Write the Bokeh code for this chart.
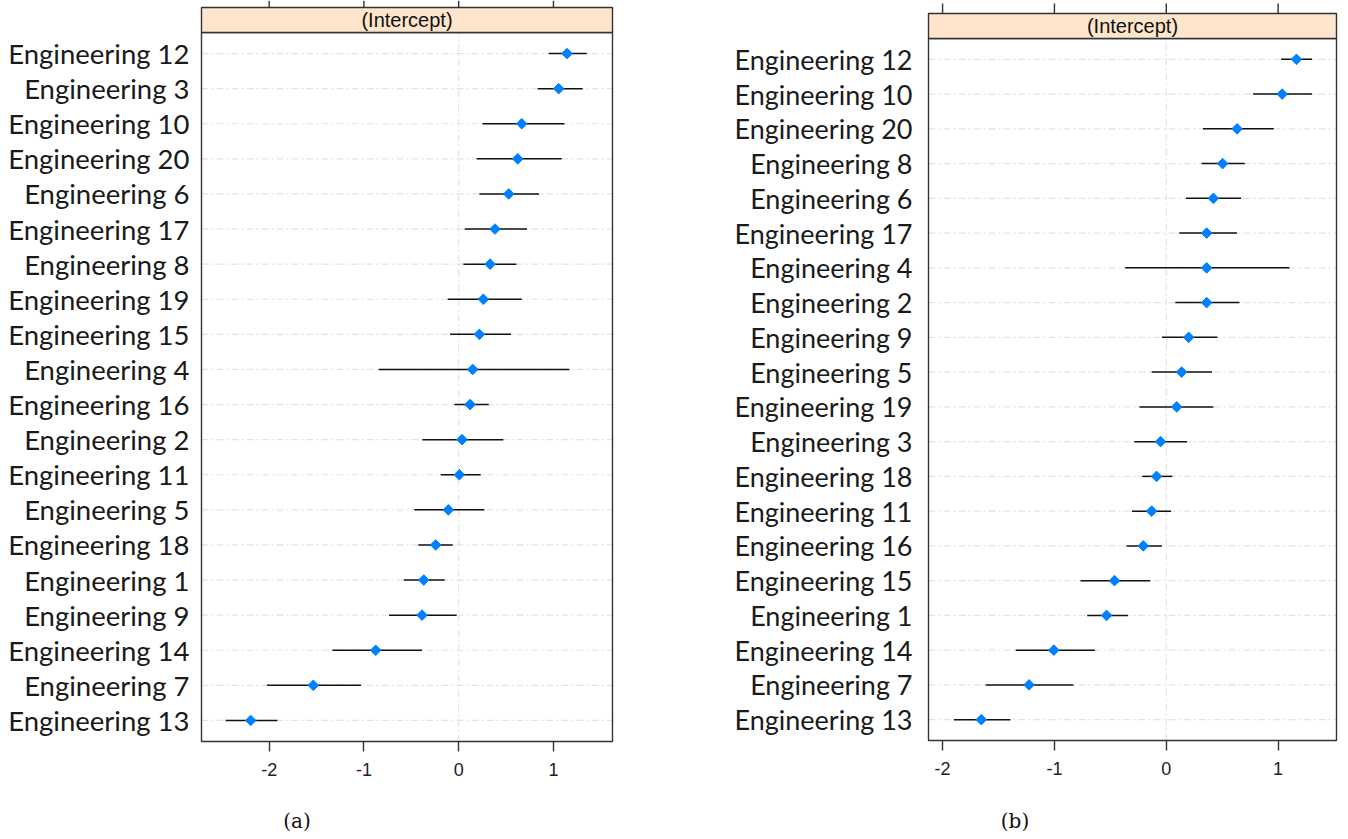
from bokeh.plotting import figure
from bokeh.models import Range1d, FixedTicker, Div
from bokeh.layouts import row, column
from bokeh.embed import file_html
from bokeh.resources import INLINE
from bokeh.core.properties import value

# ---------------- data: panel (a), top to bottom ----------------
a_labels = ["Engineering 12", "Engineering 3", "Engineering 10", "Engineering 20",
            "Engineering 6", "Engineering 17", "Engineering 8", "Engineering 19",
            "Engineering 15", "Engineering 4", "Engineering 16", "Engineering 2",
            "Engineering 11", "Engineering 5", "Engineering 18", "Engineering 1",
            "Engineering 9", "Engineering 14", "Engineering 7", "Engineering 13"]
a_est = [1.143, 1.055, 0.665, 0.623, 0.528, 0.383, 0.331, 0.260, 0.218, 0.148,
         0.120, 0.035, 0.007, -0.109, -0.243, -0.369, -0.387, -0.876, -1.534, -2.195]
a_lo = [0.950, 0.834, 0.250, 0.190, 0.218, 0.063, 0.049, -0.116, -0.091, -0.844,
        -0.046, -0.383, -0.190, -0.468, -0.426, -0.580, -0.735, -1.333, -2.022, -2.459]
a_hi = [1.351, 1.308, 1.115, 1.087, 0.848, 0.721, 0.609, 0.665, 0.552, 1.168,
        0.317, 0.471, 0.232, 0.271, -0.063, -0.148, -0.021, -0.387, -1.031, -1.913]

# ---------------- data: panel (b), top to bottom ----------------
b_labels = ["Engineering 12", "Engineering 10", "Engineering 20", "Engineering 8",
            "Engineering 6", "Engineering 17", "Engineering 4", "Engineering 2",
            "Engineering 9", "Engineering 5", "Engineering 19", "Engineering 3",
            "Engineering 18", "Engineering 11", "Engineering 16", "Engineering 15",
            "Engineering 1", "Engineering 14", "Engineering 7", "Engineering 13"]
b_est = [1.164, 1.036, 0.633, 0.504, 0.421, 0.361, 0.361, 0.361, 0.200, 0.137,
         0.093, -0.051, -0.087, -0.131, -0.206, -0.463, -0.534, -1.006, -1.227, -1.654]
b_lo = [1.027, 0.776, 0.328, 0.316, 0.176, 0.116, -0.367, 0.081, -0.039, -0.131,
        -0.239, -0.287, -0.215, -0.307, -0.355, -0.767, -0.707, -1.346, -1.615, -1.899]
b_hi = [1.304, 1.304, 0.961, 0.701, 0.669, 0.633, 1.101, 0.654, 0.457, 0.409,
        0.421, 0.185, 0.054, 0.042, -0.039, -0.143, -0.343, -0.639, -0.830, -1.394]

x_ticks = [-2, -1, 0, 1]
x_tick_labels = ["-2", "-1", "0", "1"]
strip_text = "(Intercept)"
captions = ["(a)", "(b)"]

GRID_COLOR = "#e3e3e3"
GRID_DASH = "7 3 2 3"
POINT_COLOR = "#0080ff"
STRIP_FILL = "#ffe5cc"
FRAME_COLOR = "#333333"
PAD = 2          # px of frame beyond the drawn panel box
FIG_H = 800      # height of the plot row
CAP_H = 39       # height of the caption row


def make_panel(labels, est, lo, hi, xr, fig_left, box_left, box_w, box_right_margin,
               strip_top_px, strip_h, box_h, tick_len, label_size, label_standoff):
    n = len(labels)
    ys = list(range(n, 0, -1))
    sx = box_w / (xr[1] - xr[0])          # px per x unit
    sy = box_h / (n + 0.2)                # px per row (rows span 0.4 .. n+0.6)
    y_box_top = n + 0.6
    y_strip_top = y_box_top + strip_h / sy
    y_end = y_strip_top + strip_top_px / sy
    y_start = 0.4 - PAD / sy
    x_start = xr[0] - PAD / sx
    x_end = xr[1] + PAD / sx
    frame_w = box_w + 2 * PAD
    frame_h = strip_top_px + strip_h + box_h + PAD
    b_left = box_left - fig_left - PAD

    p = figure(output_backend="svg", toolbar_location=None,
               x_range=Range1d(x_start, x_end), y_range=Range1d(y_start, y_end),
               frame_width=frame_w, frame_height=frame_h,
               min_border_left=b_left, min_border_right=box_right_margin - PAD,
               min_border_top=0, min_border_bottom=FIG_H - frame_h,
               background_fill_color="white", border_fill_color="white")
    p.outline_line_color = None
    p.xgrid.visible = False
    p.ygrid.visible = False

    # bottom axis
    xa = p.xaxis[0]
    xa.ticker = FixedTicker(ticks=x_ticks)
    xa.major_label_overrides = {t: s for t, s in zip(x_ticks, x_tick_labels)}
    xa.axis_line_color = None
    xa.major_tick_out = 10 - PAD
    xa.major_tick_in = PAD
    xa.major_tick_line_color = FRAME_COLOR
    xa.major_tick_line_width = 1.4
    xa.minor_tick_line_color = None
    xa.major_label_standoff = 11
    xa.major_label_text_font = "Liberation Sans"
    xa.major_label_text_font_size = "18px"
    xa.major_label_text_color = "#222222"

    # left axis (category labels)
    ya = p.yaxis[0]
    ya.ticker = FixedTicker(ticks=ys)
    ya.major_label_overrides = {y: lab for y, lab in zip(ys, labels)}
    ya.axis_line_color = None
    ya.major_tick_line_color = None
    ya.minor_tick_line_color = None
    ya.major_label_standoff = label_standoff
    ya.major_label_text_font = "Lato"
    ya.major_label_text_font_size = label_size
    ya.major_label_text_color = "#1a1a1a"

    # reference lines (rows and zero)
    p.segment(x0=[xr[0]] * n, y0=ys, x1=[xr[1]] * n, y1=ys,
              line_color=GRID_COLOR, line_dash=GRID_DASH, line_width=1.2)
    p.segment(x0=[0], y0=[0.4], x1=[0], y1=[y_box_top],
              line_color=GRID_COLOR, line_dash=GRID_DASH, line_width=1.2)

    # intervals and estimates
    p.segment(x0=lo, y0=ys, x1=hi, y1=ys, line_color="#111111", line_width=1.5)
    p.scatter(x=est, y=ys, marker="square", angle=0.785398, size=7.5,
              fill_color=POINT_COLOR, line_color=POINT_COLOR)

    # panel box
    p.quad(left=[xr[0]], right=[xr[1]], bottom=[0.4], top=[y_box_top],
           fill_color=None, line_color=FRAME_COLOR, line_width=1.4)
    # strip header
    p.quad(left=[xr[0]], right=[xr[1]], bottom=[y_box_top], top=[y_strip_top],
           fill_color=STRIP_FILL, line_color=FRAME_COLOR, line_width=1.4)
    p.text(x=[(xr[0] + xr[1]) / 2], y=[(y_box_top + y_strip_top) / 2], text=[strip_text],
           text_align="center", text_baseline="middle",
           text_font=value("Liberation Sans"), text_font_size="20px",
           text_color="#111111")
    # top ticks above the strip
    p.segment(x0=x_ticks, y0=[y_strip_top] * len(x_ticks), x1=x_ticks,
              y1=[y_strip_top + tick_len / sy] * len(x_ticks),
              line_color=FRAME_COLOR, line_width=1.4)
    return p


def caption_div(text, width, center):
    html = ('<div style="width:%dpx;text-align:center;padding-top:9px;'
            'font-family:\'DejaVu Serif\';font-size:20px;line-height:24px;color:#111">%s</div>'
            % (2 * center, text))
    return Div(text=html, width=width, height=CAP_H, margin=0)


pa = make_panel(a_labels, a_est, a_lo, a_hi, (-2.714, 1.623), 0, 201, 411, 88,
                7, 25, 709, 7, "27.5px", 4)
pb = make_panel(b_labels, b_est, b_lo, b_hi, (-2.126, 1.522), 700, 928, 408, 12,
                13, 25, 702, 10, "27px", 8)

da = caption_div(captions[0], 700, 297)
db = caption_div(captions[1], 648, 315)

layout = column(row(pa, pb, spacing=0), row(da, db, spacing=0), spacing=0)
open("out.html", "w").write(file_html(layout, INLINE))
